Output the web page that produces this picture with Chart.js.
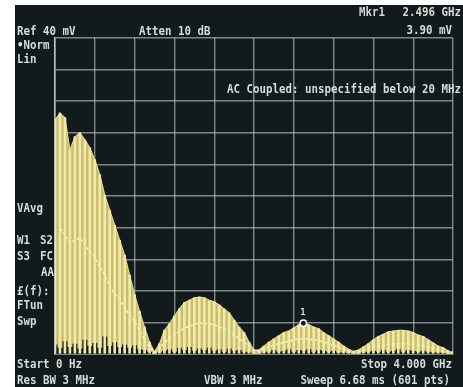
<!DOCTYPE html>
<html>
<head>
<meta charset="utf-8">
<script src="https://cdn.jsdelivr.net/npm/chart.js@4/dist/chart.umd.min.js"></script>
<style>
  html, body { margin: 0; padding: 0; background: #ffffff; }
  #wrap { position: relative; width: 463px; height: 387px; overflow: hidden; background: #ffffff; }
  #screen { position: absolute; left: 15px; top: 5px; width: 448px; height: 382px; background: #121a1c; }
  #c { position: absolute; left: 0; top: 0; }
  .t { position: absolute; color: #d6dcdc; font-family: "DejaVu Sans Mono", monospace; font-size: 10.8px;
       font-weight: bold; line-height: 12px; height: 12px; white-space: pre;
       transform: scaleY(1.2); transform-origin: 0 50%; }
  .r { transform-origin: 100% 50%; }
  #mk { font-size: 9px; transform: none; }
</style>
</head>
<body>
<div id="wrap">
  <div id="screen"></div>
  <canvas id="c" width="463" height="387"></canvas>

  <div class="t" style="left:359px;top:6px">Mkr1</div>
  <div class="t r" style="right:2px;top:6px">2.496 GHz</div>
  <div class="t r" style="right:11px;top:24px">3.90 mV</div>
  <div class="t" style="left:17px;top:25px">Ref 40 mV</div>
  <div class="t" style="left:139px;top:25px">Atten 10 dB</div>
  <div class="t" style="left:17px;top:39px">&#8226;Norm</div>
  <div class="t" style="left:17px;top:53px">Lin</div>
  <div class="t r" style="right:2px;top:83px">AC Coupled: unspecified below 20 MHz</div>
  <div class="t" style="left:17px;top:202px">VAvg</div>
  <div class="t" style="left:17px;top:234px">W1</div>
  <div class="t" style="left:40px;top:234px">S2</div>
  <div class="t" style="left:17px;top:250px">S3</div>
  <div class="t" style="left:40px;top:250px">FC</div>
  <div class="t r" style="right:409px;top:266px">AA</div>
  <div class="t" style="left:17px;top:285px">&#163;(f):</div>
  <div class="t" style="left:17px;top:299px">FTun</div>
  <div class="t" style="left:17px;top:315px">Swp</div>
  <div class="t" style="left:17px;top:358px">Start 0 Hz</div>
  <div class="t r" style="right:11px;top:358px">Stop 4.000 GHz</div>
  <div class="t" style="left:17px;top:374px">Res BW 3 MHz</div>
  <div class="t" style="left:204px;top:374px">VBW 3 MHz</div>
  <div class="t r" style="right:13px;top:374px">Sweep 6.68 ms (601 pts)</div>
  <div class="t" id="mk">1</div>
</div>

<script>
// Frequency axis samples, GHz
const freqGHz = [
  0.00, 0.05, 0.10, 0.15, 0.20, 0.25, 0.30, 0.35, 0.40, 0.45,
  0.50, 0.55, 0.60, 0.65, 0.70, 0.75, 0.80, 0.85, 0.90, 0.95,
  1.00, 1.05, 1.10, 1.15, 1.20, 1.25, 1.30, 1.35, 1.40, 1.45,
  1.50, 1.55, 1.60, 1.65, 1.70, 1.75, 1.80, 1.85, 1.90, 1.95,
  2.00, 2.05, 2.10, 2.15, 2.20, 2.25, 2.30, 2.35, 2.40, 2.45,
  2.50, 2.55, 2.60, 2.65, 2.70, 2.75, 2.80, 2.85, 2.90, 2.95,
  3.00, 3.05, 3.10, 3.15, 3.20, 3.25, 3.30, 3.35, 3.40, 3.45,
  3.50, 3.55, 3.60, 3.65, 3.70, 3.75, 3.80, 3.85, 3.90, 3.95,
  4.00
];

// Peak trace (mV)
const peakMv = [
  29.6, 30.5, 29.9, 25.8, 27.5, 28.0, 27.1, 26.1, 24.6, 22.7,
  20.1, 18.2, 16.3, 14.4, 12.5, 10.0, 7.5, 5.4, 3.4, 1.5,
  0.25, 1.3, 3.0, 3.8, 4.8, 5.7, 6.5, 6.8, 7.1, 7.2,
  7.1, 6.8, 6.6, 6.2, 5.7, 5.2, 4.3, 3.4, 2.7, 1.5,
  0.5, 0.5, 1.0, 1.5, 1.9, 2.3, 2.7, 2.9, 3.3, 3.7,
  3.9, 3.7, 3.4, 3.2, 2.7, 2.3, 1.9, 1.5, 1.0, 0.6,
  0.3, 0.5, 0.9, 1.3, 1.8, 2.2, 2.5, 2.8, 2.9, 3.0,
  3.0, 2.9, 2.7, 2.4, 2.2, 1.8, 1.4, 1.0, 0.8, 0.4,
  0.1
];

// Video-averaged trace (mV)
const avgMv = [
  null, 15.9, 15.1, 14.1, 14.4, 14.7, 13.8, 12.9, 12.2, 11.0,
  10.0, 8.5, 7.7, 6.8, 5.9, 4.9, 4.1, 3.0, 1.8, 0.8,
  0.25, 0.8, 1.4, 2.0, 2.4, 2.9, 3.3, 3.5, 3.8, 3.9,
  3.9, 3.8, 3.7, 3.4, 3.2, 2.8, 2.4, 2.0, 1.5, 1.0,
  0.5, 0.4, 0.7, 0.9, 1.1, 1.3, 1.5, 1.6, 1.8, 1.9,
  1.9, 1.9, 1.8, 1.7, 1.5, 1.3, 1.1, 0.9, 0.6, 0.4,
  0.3, 0.3, 0.5, 0.7, 0.9, 1.0, 1.1, 1.2, 1.3, 1.3,
  1.3, 1.3, 1.2, 1.1, 1.0, 0.9, 0.7, 0.5, 0.4, 0.3,
  0.2
];

// Noise floor between the spectral lines (mV)
const floorMv = [
  1.2, 0.8, 1.6, 0.9, 1.3, 0.7, 1.8, 1.0, 1.4, 0.8,
  2.2, 1.0, 1.5, 0.9, 1.2, 0.8, 1.1, 0.6, 0.5, 0.3,
  0.0, 0.2, 0.4, 0.6, 0.3, 0.8, 0.5, 0.9, 0.4, 0.7,
  0.5, 0.8, 0.4, 0.6, 0.3, 0.7, 0.4, 0.5, 0.3, 0.2,
  0.0, 0.0, 0.2, 0.3, 0.5, 0.3, 0.4, 0.6, 0.3, 0.5,
  0.4, 0.6, 0.3, 0.5, 0.4, 0.3, 0.4, 0.2, 0.2, 0.1,
  0.0, 0.0, 0.2, 0.3, 0.4, 0.3, 0.5, 0.3, 0.4, 0.6,
  0.3, 0.5, 0.4, 0.3, 0.4, 0.3, 0.2, 0.2, 0.1, 0.0,
  0.0
];

// Marker 1
const markerGHz = 2.496;
const markerMv = 3.90;

// Axis setup: 0..4 GHz, reference level 40 mV, 10 divisions each
const spanGHz = [0, 4];
const refLevelMv = 40;
const divisions = 10;

const pts = (ys) => freqGHz.map((f, i) => ({ x: f, y: ys[i] }));

const BG = '#121a1c';
const gridCol = 'rgba(190,205,205,0.62)';

// Places the "1" tag above marker 1
const markerLabel = {
  id: 'markerLabel',
  afterDraw(chart) {
    const xs = chart.scales.x, ys = chart.scales.y;
    const el = document.getElementById('mk');
    const px = xs.getPixelForValue(markerGHz);
    const py = ys.getPixelForValue(markerMv);
    el.style.left = (px - 3) + 'px';
    el.style.top = (py - 17) + 'px';
  }
};

new Chart(document.getElementById('c'), {
  data: {
    datasets: [
      {
        type: 'scatter', label: 'Mkr1', order: 0,
        data: [{ x: markerGHz, y: markerMv }],
        pointRadius: 3.2, pointBorderWidth: 1.5,
        pointBorderColor: '#ffffff', pointBackgroundColor: BG, showLine: false
      },
      {
        type: 'line', label: 'Average', order: 1,
        data: pts(avgMv),
        borderColor: '#f6f0b8', borderWidth: 1.6, borderDash: [3, 2],
        pointRadius: 0, fill: false, tension: 0
      },
      {
        type: 'bar', label: 'Lines', order: 2,
        data: pts(peakMv),
        backgroundColor: '#f1e9aa', barThickness: 2, grouped: false
      },
      {
        type: 'line', label: 'Floor', order: 3,
        data: pts(floorMv),
        borderWidth: 0, borderColor: 'rgba(0,0,0,0)', backgroundColor: BG,
        fill: 'origin', pointRadius: 0, stepped: 'middle'
      },
      {
        type: 'line', label: 'Peak', order: 4,
        data: pts(peakMv),
        borderColor: '#e0d688', borderWidth: 1.2, backgroundColor: '#c8bd6a',
        fill: 'origin', pointRadius: 0, tension: 0
      }
    ]
  },
  options: {
    responsive: false,
    animation: false,
    devicePixelRatio: 1,
    layout: { padding: { left: 55, top: 38, right: 10, bottom: 33 } },
    plugins: { legend: { display: false }, tooltip: { enabled: false } },
    scales: {
      x: {
        type: 'linear', min: spanGHz[0], max: spanGHz[1], z: 1, offset: false,
        ticks: { display: false, stepSize: (spanGHz[1] - spanGHz[0]) / divisions },
        grid: { color: gridCol, lineWidth: 1.4, drawTicks: false, offset: false },
        border: { display: true, color: 'rgba(200,212,212,0.8)', width: 1.6 }
      },
      y: {
        type: 'linear', min: 0, max: refLevelMv, z: 1,
        ticks: { display: false, stepSize: refLevelMv / divisions },
        grid: { color: gridCol, lineWidth: 1.4, drawTicks: false },
        border: { display: true, color: 'rgba(200,212,212,0.8)', width: 1.6 }
      }
    }
  },
  plugins: [markerLabel]
});
</script>
</body>
</html>
